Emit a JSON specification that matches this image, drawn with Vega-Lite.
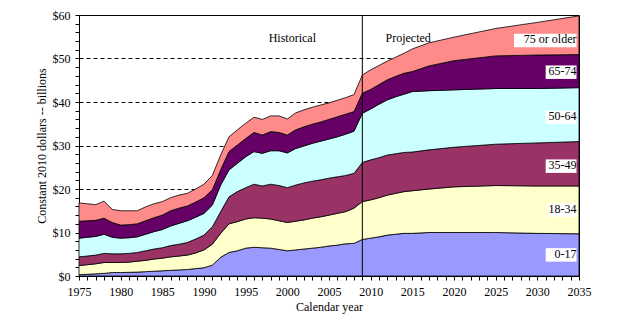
{
  "$schema": "https://vega.github.io/schema/vega-lite/v6.json",
  "width": 500,
  "height": 261,
  "autosize": "none",
  "padding": {"left": 79, "top": 15, "right": 45, "bottom": 60},
  "background": "white",
  "config": {"view": {"stroke": "black", "strokeWidth": 1}},
  "datasets": {
    "spend": [
      {"year":1975,"group":"0-17","value":0.3},{"year":1975,"group":"18-34","value":2.1},{"year":1975,"group":"35-49","value":2.0},{"year":1975,"group":"50-64","value":4.3},{"year":1975,"group":"65-74","value":3.9},{"year":1975,"group":"75 or older","value":4.2},
      {"year":1976,"group":"0-17","value":0.4},{"year":1976,"group":"18-34","value":2.2},{"year":1976,"group":"35-49","value":2.0},{"year":1976,"group":"50-64","value":4.3},{"year":1976,"group":"65-74","value":3.8},{"year":1976,"group":"75 or older","value":3.9},
      {"year":1977,"group":"0-17","value":0.5},{"year":1977,"group":"18-34","value":2.3},{"year":1977,"group":"35-49","value":2.0},{"year":1977,"group":"50-64","value":4.3},{"year":1977,"group":"65-74","value":3.7},{"year":1977,"group":"75 or older","value":3.6},
      {"year":1978,"group":"0-17","value":0.6},{"year":1978,"group":"18-34","value":2.5},{"year":1978,"group":"35-49","value":2.1},{"year":1978,"group":"50-64","value":4.4},{"year":1978,"group":"65-74","value":3.7},{"year":1978,"group":"75 or older","value":3.9},
      {"year":1979,"group":"0-17","value":0.8},{"year":1979,"group":"18-34","value":2.3},{"year":1979,"group":"35-49","value":2.0},{"year":1979,"group":"50-64","value":3.8},{"year":1979,"group":"65-74","value":3.4},{"year":1979,"group":"75 or older","value":3.0},
      {"year":1980,"group":"0-17","value":0.8},{"year":1980,"group":"18-34","value":2.3},{"year":1980,"group":"35-49","value":2.0},{"year":1980,"group":"50-64","value":3.6},{"year":1980,"group":"65-74","value":3.0},{"year":1980,"group":"75 or older","value":3.3},
      {"year":1981,"group":"0-17","value":0.85},{"year":1981,"group":"18-34","value":2.35},{"year":1981,"group":"35-49","value":2.0},{"year":1981,"group":"50-64","value":3.6},{"year":1981,"group":"65-74","value":3.0},{"year":1981,"group":"75 or older","value":3.2},
      {"year":1982,"group":"0-17","value":0.9},{"year":1982,"group":"18-34","value":2.5},{"year":1982,"group":"35-49","value":2.0},{"year":1982,"group":"50-64","value":3.6},{"year":1982,"group":"65-74","value":3.0},{"year":1982,"group":"75 or older","value":3.0},
      {"year":1983,"group":"0-17","value":1.0},{"year":1983,"group":"18-34","value":2.6},{"year":1983,"group":"35-49","value":2.2},{"year":1983,"group":"50-64","value":3.8},{"year":1983,"group":"65-74","value":3.1},{"year":1983,"group":"75 or older","value":3.2},
      {"year":1984,"group":"0-17","value":1.1},{"year":1984,"group":"18-34","value":2.8},{"year":1984,"group":"35-49","value":2.3},{"year":1984,"group":"50-64","value":4.0},{"year":1984,"group":"65-74","value":3.2},{"year":1984,"group":"75 or older","value":3.2},
      {"year":1985,"group":"0-17","value":1.2},{"year":1985,"group":"18-34","value":2.9},{"year":1985,"group":"35-49","value":2.4},{"year":1985,"group":"50-64","value":4.2},{"year":1985,"group":"65-74","value":3.3},{"year":1985,"group":"75 or older","value":3.1},
      {"year":1986,"group":"0-17","value":1.3},{"year":1986,"group":"18-34","value":3.1},{"year":1986,"group":"35-49","value":2.6},{"year":1986,"group":"50-64","value":4.5},{"year":1986,"group":"65-74","value":3.5},{"year":1986,"group":"75 or older","value":3.0},
      {"year":1987,"group":"0-17","value":1.4},{"year":1987,"group":"18-34","value":3.2},{"year":1987,"group":"35-49","value":2.7},{"year":1987,"group":"50-64","value":4.8},{"year":1987,"group":"65-74","value":3.5},{"year":1987,"group":"75 or older","value":3.0},
      {"year":1988,"group":"0-17","value":1.5},{"year":1988,"group":"18-34","value":3.3},{"year":1988,"group":"35-49","value":2.9},{"year":1988,"group":"50-64","value":5.0},{"year":1988,"group":"65-74","value":3.4},{"year":1988,"group":"75 or older","value":2.9},
      {"year":1989,"group":"0-17","value":1.7},{"year":1989,"group":"18-34","value":3.6},{"year":1989,"group":"35-49","value":3.2},{"year":1989,"group":"50-64","value":5.0},{"year":1989,"group":"65-74","value":3.5},{"year":1989,"group":"75 or older","value":3.0},
      {"year":1990,"group":"0-17","value":1.9},{"year":1990,"group":"18-34","value":4.1},{"year":1990,"group":"35-49","value":3.4},{"year":1990,"group":"50-64","value":5.0},{"year":1990,"group":"65-74","value":3.6},{"year":1990,"group":"75 or older","value":3.1},
      {"year":1991,"group":"0-17","value":2.5},{"year":1991,"group":"18-34","value":4.8},{"year":1991,"group":"35-49","value":4.0},{"year":1991,"group":"50-64","value":5.0},{"year":1991,"group":"65-74","value":3.5},{"year":1991,"group":"75 or older","value":3.3},
      {"year":1992,"group":"0-17","value":4.3},{"year":1992,"group":"18-34","value":5.5},{"year":1992,"group":"35-49","value":5.0},{"year":1992,"group":"50-64","value":6.1},{"year":1992,"group":"65-74","value":3.5},{"year":1992,"group":"75 or older","value":3.4},
      {"year":1993,"group":"0-17","value":5.4},{"year":1993,"group":"18-34","value":6.6},{"year":1993,"group":"35-49","value":6.2},{"year":1993,"group":"50-64","value":6.2},{"year":1993,"group":"65-74","value":4.2},{"year":1993,"group":"75 or older","value":3.4},
      {"year":1994,"group":"0-17","value":5.8},{"year":1994,"group":"18-34","value":6.7},{"year":1994,"group":"35-49","value":6.9},{"year":1994,"group":"50-64","value":6.5},{"year":1994,"group":"65-74","value":4.2},{"year":1994,"group":"75 or older","value":3.5},
      {"year":1995,"group":"0-17","value":6.4},{"year":1995,"group":"18-34","value":6.7},{"year":1995,"group":"35-49","value":7.2},{"year":1995,"group":"50-64","value":7.1},{"year":1995,"group":"65-74","value":4.2},{"year":1995,"group":"75 or older","value":3.5},
      {"year":1996,"group":"0-17","value":6.6},{"year":1996,"group":"18-34","value":6.8},{"year":1996,"group":"35-49","value":7.7},{"year":1996,"group":"50-64","value":7.5},{"year":1996,"group":"65-74","value":4.4},{"year":1996,"group":"75 or older","value":3.5},
      {"year":1997,"group":"0-17","value":6.5},{"year":1997,"group":"18-34","value":6.8},{"year":1997,"group":"35-49","value":7.4},{"year":1997,"group":"50-64","value":7.5},{"year":1997,"group":"65-74","value":4.2},{"year":1997,"group":"75 or older","value":3.6},
      {"year":1998,"group":"0-17","value":6.4},{"year":1998,"group":"18-34","value":6.7},{"year":1998,"group":"35-49","value":8.0},{"year":1998,"group":"50-64","value":7.7},{"year":1998,"group":"65-74","value":4.4},{"year":1998,"group":"75 or older","value":3.6},
      {"year":1999,"group":"0-17","value":6.1},{"year":1999,"group":"18-34","value":6.6},{"year":1999,"group":"35-49","value":8.1},{"year":1999,"group":"50-64","value":8.0},{"year":1999,"group":"65-74","value":4.2},{"year":1999,"group":"75 or older","value":3.8},
      {"year":2000,"group":"0-17","value":5.8},{"year":2000,"group":"18-34","value":6.5},{"year":2000,"group":"35-49","value":8.0},{"year":2000,"group":"50-64","value":8.0},{"year":2000,"group":"65-74","value":4.1},{"year":2000,"group":"75 or older","value":3.7},
      {"year":2001,"group":"0-17","value":6.0},{"year":2001,"group":"18-34","value":6.6},{"year":2001,"group":"35-49","value":8.3},{"year":2001,"group":"50-64","value":8.4},{"year":2001,"group":"65-74","value":4.3},{"year":2001,"group":"75 or older","value":3.9},
      {"year":2002,"group":"0-17","value":6.2},{"year":2002,"group":"18-34","value":6.7},{"year":2002,"group":"35-49","value":8.5},{"year":2002,"group":"50-64","value":8.5},{"year":2002,"group":"65-74","value":4.4},{"year":2002,"group":"75 or older","value":3.9},
      {"year":2003,"group":"0-17","value":6.4},{"year":2003,"group":"18-34","value":6.9},{"year":2003,"group":"35-49","value":8.5},{"year":2003,"group":"50-64","value":8.7},{"year":2003,"group":"65-74","value":4.4},{"year":2003,"group":"75 or older","value":3.9},
      {"year":2004,"group":"0-17","value":6.6},{"year":2004,"group":"18-34","value":7.0},{"year":2004,"group":"35-49","value":8.5},{"year":2004,"group":"50-64","value":8.9},{"year":2004,"group":"65-74","value":4.4},{"year":2004,"group":"75 or older","value":3.9},
      {"year":2005,"group":"0-17","value":6.9},{"year":2005,"group":"18-34","value":7.1},{"year":2005,"group":"35-49","value":8.5},{"year":2005,"group":"50-64","value":9.0},{"year":2005,"group":"65-74","value":4.5},{"year":2005,"group":"75 or older","value":3.8},
      {"year":2006,"group":"0-17","value":7.1},{"year":2006,"group":"18-34","value":7.3},{"year":2006,"group":"35-49","value":8.4},{"year":2006,"group":"50-64","value":9.2},{"year":2006,"group":"65-74","value":4.6},{"year":2006,"group":"75 or older","value":3.8},
      {"year":2007,"group":"0-17","value":7.4},{"year":2007,"group":"18-34","value":7.4},{"year":2007,"group":"35-49","value":8.3},{"year":2007,"group":"50-64","value":9.5},{"year":2007,"group":"65-74","value":4.6},{"year":2007,"group":"75 or older","value":3.8},
      {"year":2008,"group":"0-17","value":7.5},{"year":2008,"group":"18-34","value":8.1},{"year":2008,"group":"35-49","value":8.0},{"year":2008,"group":"50-64","value":9.7},{"year":2008,"group":"65-74","value":4.5},{"year":2008,"group":"75 or older","value":3.9},
      {"year":2009,"group":"0-17","value":8.4},{"year":2009,"group":"18-34","value":8.7},{"year":2009,"group":"35-49","value":9.0},{"year":2009,"group":"50-64","value":11.3},{"year":2009,"group":"65-74","value":4.6},{"year":2009,"group":"75 or older","value":4.2},
      {"year":2010,"group":"0-17","value":8.7},{"year":2010,"group":"18-34","value":8.8},{"year":2010,"group":"35-49","value":9.2},{"year":2010,"group":"50-64","value":11.7},{"year":2010,"group":"65-74","value":4.5},{"year":2010,"group":"75 or older","value":4.5},
      {"year":2011,"group":"0-17","value":9.0},{"year":2011,"group":"18-34","value":9.0},{"year":2011,"group":"35-49","value":9.2},{"year":2011,"group":"50-64","value":12.3},{"year":2011,"group":"65-74","value":4.5},{"year":2011,"group":"75 or older","value":4.4},
      {"year":2012,"group":"0-17","value":9.4},{"year":2012,"group":"18-34","value":9.2},{"year":2012,"group":"35-49","value":9.2},{"year":2012,"group":"50-64","value":12.7},{"year":2012,"group":"65-74","value":4.6},{"year":2012,"group":"75 or older","value":4.3},
      {"year":2013,"group":"0-17","value":9.6},{"year":2013,"group":"18-34","value":9.4},{"year":2013,"group":"35-49","value":9.1},{"year":2013,"group":"50-64","value":13.1},{"year":2013,"group":"65-74","value":4.7},{"year":2013,"group":"75 or older","value":4.4},
      {"year":2014,"group":"0-17","value":9.8},{"year":2014,"group":"18-34","value":9.6},{"year":2014,"group":"35-49","value":9.0},{"year":2014,"group":"50-64","value":13.4},{"year":2014,"group":"65-74","value":4.8},{"year":2014,"group":"75 or older","value":4.6},
      {"year":2015,"group":"0-17","value":9.8},{"year":2015,"group":"18-34","value":9.8},{"year":2015,"group":"35-49","value":8.9},{"year":2015,"group":"50-64","value":13.9},{"year":2015,"group":"65-74","value":4.6},{"year":2015,"group":"75 or older","value":5.2},
      {"year":2017,"group":"0-17","value":10.0},{"year":2017,"group":"18-34","value":10.0},{"year":2017,"group":"35-49","value":9.0},{"year":2017,"group":"50-64","value":13.6},{"year":2017,"group":"65-74","value":5.7},{"year":2017,"group":"75 or older","value":5.3},
      {"year":2020,"group":"0-17","value":10.0},{"year":2020,"group":"18-34","value":10.5},{"year":2020,"group":"35-49","value":9.1},{"year":2020,"group":"50-64","value":13.2},{"year":2020,"group":"65-74","value":6.7},{"year":2020,"group":"75 or older","value":5.4},
      {"year":2025,"group":"0-17","value":10.0},{"year":2025,"group":"18-34","value":10.8},{"year":2025,"group":"35-49","value":9.5},{"year":2025,"group":"50-64","value":12.8},{"year":2025,"group":"65-74","value":7.5},{"year":2025,"group":"75 or older","value":6.3},
      {"year":2030,"group":"0-17","value":9.8},{"year":2030,"group":"18-34","value":10.9},{"year":2030,"group":"35-49","value":9.9},{"year":2030,"group":"50-64","value":12.5},{"year":2030,"group":"65-74","value":7.7},{"year":2030,"group":"75 or older","value":7.5},
      {"year":2035,"group":"0-17","value":9.7},{"year":2035,"group":"18-34","value":11.0},{"year":2035,"group":"35-49","value":10.2},{"year":2035,"group":"50-64","value":12.4},{"year":2035,"group":"65-74","value":7.6},{"year":2035,"group":"75 or older","value":8.9}
    ],
    "labels": [
      {"label":"75 or older","year":2034.7,"left":2027.2,"value":52.6,"top":55.7},
      {"label":"65-74","year":2034.7,"left":2031.0,"value":45.3,"top":48.4},
      {"label":"50-64","year":2034.7,"left":2031.0,"value":34.9,"top":38.0},
      {"label":"35-49","year":2034.7,"left":2031.0,"value":23.7,"top":26.8},
      {"label":"18-34","year":2034.7,"left":2031.2,"value":13.6,"top":16.7},
      {"label":"0-17","year":2034.7,"left":2031.0,"value":3.3,"top":6.4}
    ],
    "periods": [
      {"label":"Historical","year":2000.6,"value":54.6},
      {"label":"Projected","year":2014.5,"value":54.6}
    ]
  },
  "encoding": {
    "x": {
      "field": "year", "type": "quantitative",
      "scale": {"domain": [1975, 2035], "nice": false, "zero": false},
      "axis": {
        "title": "Calendar year",
        "values": [1975,1976,1977,1978,1979,1980,1981,1982,1983,1984,1985,1986,1987,1988,1989,1990,1991,1992,1993,1994,1995,1996,1997,1998,1999,2000,2001,2002,2003,2004,2005,2006,2007,2008,2009,2010,2011,2012,2013,2014,2015,2016,2017,2018,2019,2020,2021,2022,2023,2024,2025,2026,2027,2028,2029,2030,2031,2032,2033,2034,2035],
        "labelExpr": "datum.value % 5 === 0 ? '' + datum.value : ''",
        "labelOverlap": false,
        "labelFlush": false,
        "grid": false,
        "tickSize": 4,
        "tickColor": "black",
        "domainColor": "black",
        "labelFont": "Liberation Serif",
        "labelFontSize": 12,
        "labelColor": "black",
        "labelPadding": 6,
        "titleFont": "Liberation Serif",
        "titleFontSize": 12,
        "titleFontWeight": "normal",
        "titleColor": "black",
        "titlePadding": 4
      }
    },
    "y": {
      "field": "value", "type": "quantitative",
      "scale": {"domain": [0, 60], "nice": false},
      "axis": {
        "title": "Constant 2010 dollars -- billions",
        "values": [0,2,4,6,8,10,12,14,16,18,20,22,24,26,28,30,32,34,36,38,40,42,44,46,48,50,52,54,56,58,60],
        "labelExpr": "datum.value % 10 === 0 ? '$' + datum.value : ''",
        "labelOverlap": false,
        "grid": true,
        "gridColor": "black",
        "gridDash": [4, 3],
        "gridOpacity": {"condition": {"test": "datum.value % 10 === 0 && datum.value > 0 && datum.value < 60", "value": 1}, "value": 0},
        "tickSize": 4,
        "tickColor": "black",
        "domainColor": "black",
        "labelFont": "Liberation Serif",
        "labelFontSize": 12,
        "labelColor": "black",
        "labelPadding": 5,
        "titleFont": "Liberation Serif",
        "titleFontSize": 12,
        "titleFontWeight": "normal",
        "titleColor": "black",
        "titlePadding": 4
      }
    }
  },
  "layer": [
    {
      "data": {"name": "spend"},
      "mark": {"type": "area", "stroke": "black", "strokeWidth": 0.8, "opacity": 1},
      "encoding": {
        "y": {"field": "value", "type": "quantitative", "stack": "zero"},
        "color": {
          "field": "group", "type": "nominal",
          "scale": {
            "domain": ["0-17", "18-34", "35-49", "50-64", "65-74", "75 or older"],
            "range": ["#9999FF", "#FFFFCC", "#993366", "#CCFFFF", "#660066", "#FF8A8A"]
          },
          "legend": null
        },
        "order": {"field": "group", "sort": "ascending"}
      }
    },
    {
      "data": {"values": [{"year": 2009}]},
      "mark": {"type": "rule", "color": "black", "strokeWidth": 1},
      "encoding": {"y": {"value": 0}, "y2": {"value": "height"}}
    },
    {
      "data": {"name": "labels"},
      "mark": {"type": "rect", "color": "white", "opacity": 1},
      "encoding": {
        "x2": {"field": "left"},
        "y2": {"field": "top"}
      }
    },
    {
      "data": {"name": "labels"},
      "mark": {"type": "text", "align": "right", "baseline": "bottom", "dy": -1, "font": "Liberation Serif", "fontSize": 12, "color": "black"},
      "encoding": {
        "text": {"field": "label"}
      }
    },
    {
      "data": {"name": "periods"},
      "mark": {"type": "text", "align": "center", "baseline": "middle", "font": "Liberation Serif", "fontSize": 12, "color": "black"},
      "encoding": {
        "text": {"field": "label"}
      }
    }
  ]
}
